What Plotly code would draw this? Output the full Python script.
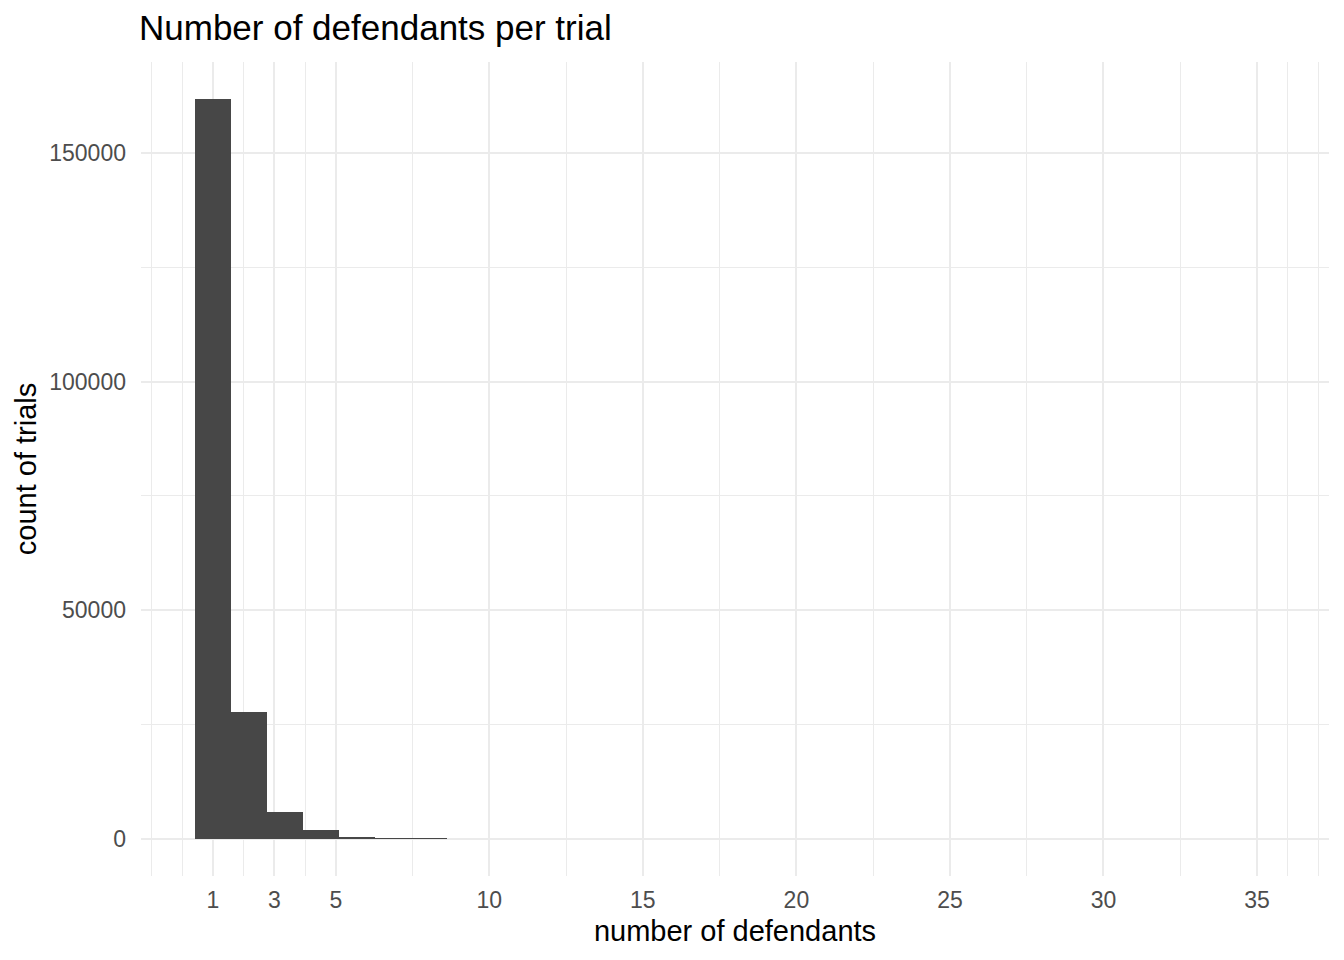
import numpy as np
import plotly.graph_objects as go

# histogram of defendants per trial (30 bins, first bin centred on 1)
bin_first_center = 1
bin_last_center = 35
n_bins = 30
bin_counts = [161800, 27700, 5840, 1900, 300, 110, 45, 0, 0, 0,
              0, 0, 0, 0, 0, 0, 0, 0, 0, 0,
              0, 0, 0, 0, 0, 0, 0, 0, 0, 0]

x_ticks = [1, 3, 5, 10, 15, 20, 25, 30, 35]
x_minor = [-1, 0, 2, 4, 7.5, 12.5, 17.5, 22.5, 27.5, 32.5, 36, 37]
y_ticks = [0, 50000, 100000, 150000]
y_minor = [25000, 75000, 125000]

title_text = "Number of defendants per trial"
x_title = "number of defendants"
y_title = "count of trials"

BAR_COLOR = "#474747"
GRID_MAJOR = "#EBEBEB"
TICK_COLOR = "#4D4D4D"
FONT = "Liberation Sans, Arial, Helvetica, sans-serif"

bin_width = (bin_last_center - bin_first_center) / (n_bins - 1)
centers = bin_first_center + bin_width * np.arange(n_bins)

# ggplot style 5% expansion around the bars
x_lo = centers[0] - bin_width / 2
x_hi = centers[-1] + bin_width / 2
x_pad = (x_hi - x_lo) * 0.05
y_max = max(bin_counts)
y_pad = y_max * 0.05

fig = go.Figure()
fig.add_trace(go.Bar(
    x=centers,
    y=bin_counts,
    width=bin_width,
    marker=dict(color=BAR_COLOR, line=dict(width=0)),
    hoverinfo="x+y",
))

fig.update_layout(
    width=1344,
    height=960,
    plot_bgcolor="white",
    paper_bgcolor="white",
    showlegend=False,
    bargap=0,
    font=dict(family=FONT, color="#000000"),
    margin=dict(l=141, r=15, t=62, b=84, autoexpand=False),
    title=dict(
        text=title_text,
        font=dict(size=35, color="#000000"),
        xref="container", x=139 / 1344, xanchor="left",
        yref="container", y=1 - 28 / 960, yanchor="middle",
    ),
)

fig.update_xaxes(
    range=[x_lo - x_pad, x_hi + x_pad],
    tickmode="array",
    tickvals=x_ticks,
    ticktext=[str(v) for v in x_ticks],
    showgrid=True,
    gridcolor=GRID_MAJOR,
    gridwidth=2,
    minor=dict(tickvals=x_minor, showgrid=True, gridcolor=GRID_MAJOR, gridwidth=1),
    zeroline=False,
    showline=False,
    ticks="",
    ticklabelstandoff=8,
    tickfont=dict(size=23, color=TICK_COLOR),
    title=dict(text=x_title, font=dict(size=29, color="#000000"), standoff=8),
    automargin=False,
)
fig.update_yaxes(
    range=[-y_pad, y_max + y_pad],
    tickmode="array",
    tickvals=y_ticks,
    ticktext=[str(v) for v in y_ticks],
    showgrid=True,
    gridcolor=GRID_MAJOR,
    gridwidth=2,
    minor=dict(tickvals=y_minor, showgrid=True, gridcolor=GRID_MAJOR, gridwidth=1),
    zeroline=False,
    showline=False,
    ticks="",
    ticklabelstandoff=14,
    tickfont=dict(size=23, color=TICK_COLOR),
    title=dict(text=y_title, font=dict(size=29, color="#000000"), standoff=4),
    automargin=False,
)

fig.write_html(
    "out.html",
    config={"displayModeBar": False},
    post_script="document.body.style.margin='0';",
)
